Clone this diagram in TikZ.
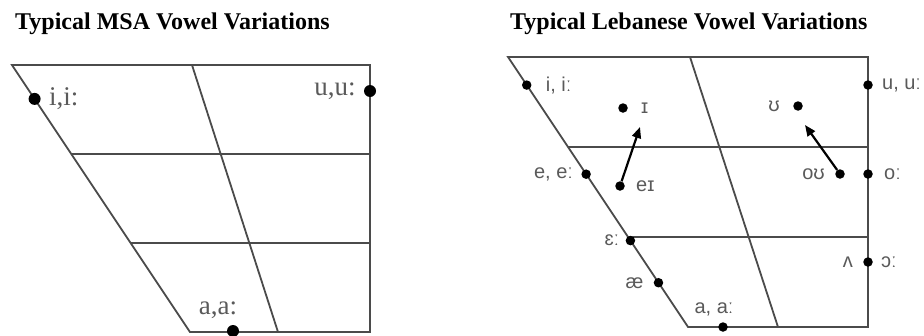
\documentclass[tikz,border=0pt]{standalone}
\usepackage{fontspec}
\setmainfont{Liberation Serif}
\newfontfamily\ipasans{Liberation Sans}
\usepackage{tikz}
\usetikzlibrary{positioning,arrows.meta,calc}
\definecolor{chartline}{RGB}{75,75,75}
\definecolor{vowelgray}{RGB}{90,90,90}
\tikzset{
  chart/.style={draw=chartline,line width=1.8pt},
  bigdot/.style={circle,fill=black,inner sep=0pt,minimum size=12pt},
  smalldot/.style={circle,fill=black,inner sep=0pt,minimum size=9.5pt},
  msalabel/.style={text=vowelgray,inner sep=0pt,font=\fontsize{27}{30}\selectfont},
  leblabel/.style={text=vowelgray,inner sep=0pt,font=\ipasans\fontsize{20}{23}\selectfont},
  charttitle/.style={anchor=west,inner sep=0pt,font=\bfseries\fontsize{24}{27}\selectfont},
  glide/.style={-{Triangle[length=11pt,width=9pt]},line width=2.2pt}
}

\begin{document}
\begin{tikzpicture}[x=1pt,y=-1pt]
  \useasboundingbox (0,0) rectangle (924,335);
  \node[charttitle] (msatitle) at (15,24) {Typical MSA Vowel Variations};
  \node[charttitle] (lebtitle) at (510,24) {Typical Lebanese Vowel Variations};

  \coordinate (mtl) at (12,65);
  \coordinate (mtr) at (370,65);
  \coordinate (mbr) at (370,332);
  \coordinate (mbl) at (190,332);
  \coordinate (mtm) at (192,65);
  \coordinate (mbm) at (278,332);
  \draw[chart] (mtl) -- (mtr) -- (mbr) -- (mbl) -- cycle;
  \draw[chart] (mtm) -- (mbm);
  \draw[chart] ($(mtl)!1/3!(mbl)$) -- ($(mtr)!1/3!(mbr)$);
  \draw[chart] ($(mtl)!2/3!(mbl)$) -- ($(mtr)!2/3!(mbr)$);

  \node[bigdot] (mi) at ($(mtl)!0.127!(mbl)$) {};
  \node[bigdot] (mu) at (370,91) {};
  \node[bigdot] (ma) at (233,331) {};
  \node[msalabel,right=8pt of mi] (milab) {i,i:};
  \node[msalabel,left=8pt of mu] (mulab) {u,u:};
  \node[msalabel,above=6pt of ma,xshift=-15pt] (malab) {a,a:};

  \coordinate (ltl) at (508,57);
  \coordinate (ltr) at (868,57);
  \coordinate (lbr) at (868,327);
  \coordinate (lbl) at (688,327);
  \coordinate (ltm) at (690,57);
  \coordinate (lbm) at (778,327);
  \draw[chart] (ltl) -- (ltr) -- (lbr) -- (lbl) -- cycle;
  \draw[chart] (ltm) -- (lbm);
  \draw[chart] ($(ltl)!1/3!(lbl)$) -- ($(ltr)!1/3!(lbr)$);
  \draw[chart] ($(ltl)!2/3!(lbl)$) -- ($(ltr)!2/3!(lbr)$);

  \node[smalldot] (li) at ($(ltl)!0.104!(lbl)$) {};
  \node[smalldot] (lsi) at (623,108) {};
  \node[smalldot] (lsu) at (798,106) {};
  \node[smalldot] (lu) at (868,85) {};
  \node[smalldot] (le) at ($(ltl)!0.434!(lbl)$) {};
  \node[smalldot] (lei) at (620,186) {};
  \node[smalldot] (lou) at (840,174) {};
  \node[smalldot] (lo) at (868,174) {};
  \node[smalldot] (leps) at ($(ltl)!0.68!(lbl)$) {};
  \node[smalldot] (lae) at ($(ltl)!0.836!(lbl)$) {};
  \node[smalldot] (lv) at (868,262) {};
  \node[smalldot] (la) at (723,327) {};

  \node[leblabel,right=14pt of li] (lilab) {i, iː};
  \node[leblabel,right=13pt of lsi] (lsilab) {ɪ};
  \node[leblabel,left=13pt of lsu] (lsulab) {ʊ};
  \node[leblabel,right=9pt of lu] (lulab) {u, uː};
  \node[leblabel,left=8pt of le] (lelab) {e, eː};
  \node[leblabel,right=11pt of lei] (leilab) {eɪ};
  \node[leblabel,left=10pt of lou] (loulab) {oʊ};
  \node[leblabel,right=11pt of lo] (lolab) {oː};
  \node[leblabel,left=6pt of leps] (lepslab) {ɛː};
  \node[leblabel,left=10pt of lae] (laelab) {æ};
  \node[leblabel,left=10pt of lv] (lvlab) {ʌ};
  \node[leblabel,right=8pt of lv] (lvlab2) {ɔː};
  \node[leblabel,above=6pt of la,xshift=-9pt] (lalab) {a, aː};

  \coordinate (ihead) at (640,127);
  \coordinate (uhead) at (805,125);
  \draw[glide] (lei) -- (ihead);
  \draw[glide] (lou) -- (uhead);
\end{tikzpicture}
\end{document}
